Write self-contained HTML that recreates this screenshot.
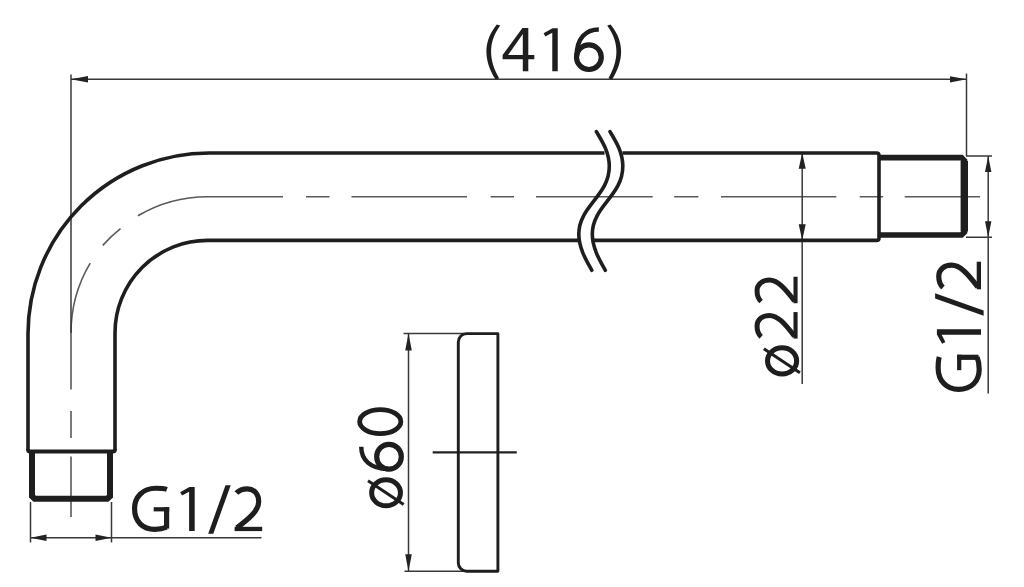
<!DOCTYPE html>
<html><head><meta charset="utf-8">
<style>
html,body{margin:0;padding:0;background:#fff;width:1024px;height:587px;overflow:hidden}
svg{display:block}
</style></head>
<body>
<svg width="1024" height="587" viewBox="0 0 1024 587">
<g fill="none" stroke-linecap="butt" stroke-linejoin="round">
  <g stroke-width="1.6" stroke="#5a5a5a">
    <path d="M71 517 L71 456.6 M71 438 L71 411"/>
    <path d="M71 389.5 L71 333 A136.5 136.5 0 0 1 90.2 263.1"/>
    <path d="M102.8 245.4 A136.5 136.5 0 0 1 120.5 228.7"/>
    <path d="M137.9 215.8 A136.5 136.5 0 0 1 207.5 196.7 L283 196.7"/>
    <path d="M306 196.7 L329.5 196.7 M351.5 196.7 L467 196.7 M490.6 196.7 L514 196.7 M536 196.7 L652.7 196.7 M674.2 196.7 L698.4 196.7 M721 196.7 L836.3 196.7 M859.8 196.7 L883.2 196.7 M904.7 196.7 L980 196.7"/>
  </g>
  <g stroke-width="1.5" stroke="#383838">
    <path d="M71 74.6 L71 333"/>
    <path d="M966.5 73.5 L966.5 156"/>
    <path d="M71 79.3 L966.5 79.3"/>
    <path d="M30.5 502 L30.5 542.5 M111.5 502 L111.5 542.5 M30.5 537.8 L261.5 537.8"/>
    <path d="M802.2 152.7 L802.2 384"/>
    <path d="M966 156 L992 156 M966 237.2 L992 237.2 M988.2 156 L988.2 393.5"/>
    <path d="M403.5 333.6 L466 333.6 M404.5 571.2 L466 571.2 M408.5 333.6 L408.5 571.2"/>
    <path stroke="#222" stroke-width="2.4" d="M432.7 452.4 L516.8 452.4"/>
  </g>
  <g stroke="#1e1e1e">
  <path stroke-width="3.6" d="M28 450 L28 334 A181 181 0 0 1 209 153 L604.5 153"/>
  <path stroke-width="3.6" d="M622.5 153 L876.5 153 Q879 153 879 155.5 L879 237.9 Q879 240.4 876.5 240.4 L594 240.4"/>
  <path stroke-width="3.6" d="M578 240.4 L207.5 240.4 A92.5 92.5 0 0 0 115 332.9 L115 450"/>
  <path stroke-width="4" d="M28 449 Q28 451.6 30 451.6 L112.5 451.6 Q115 451.6 115 449"/>
  <path stroke-width="3.6" stroke-linecap="round" d="M596.4 131.6 C602 141 609.3 152 609.3 166.3 C609.3 196 578.8 206 578.8 234.1 C578.8 248 586 260 591.8 270.3"/>
  <path stroke-width="3.6" stroke-linecap="round" d="M610 131.6 C615.6 141 622.8 152 622.8 166.3 C622.8 196 592.3 206 592.3 234.1 C592.3 248 599.5 260 605.3 270.3"/>
  <path stroke-width="6" stroke-linejoin="miter" d="M32 453 L32 496.3 L34.7 498.8 L107.3 498.8 L110 496.3 L110 453"/>
  <path stroke-width="5.6" stroke-linejoin="miter" d="M879 157.6 L961.5 157.6 L964.5 160.6 L964.5 232 L961.5 235 L879 235"/>
  <path stroke-width="7.4" d="M964.3 161 L964.3 231.5"/>
  <path stroke-width="2.9" d="M497.9 333.6 L466.8 333.6 A8.5 8.5 0 0 0 458.3 342.1 L458.3 562.7 A8.5 8.5 0 0 0 466.8 571.2 L497.9 571.2 Z"/>
  </g>
</g>
<g fill="#222" stroke="none">
  <path d="M71 79.3 L88 76 L88 82.6 Z"/>
  <path d="M966.5 79.3 L950 76.2 L950 82.4 Z"/>
  <path d="M30.5 537.8 L46.5 534.6 L46.5 541 Z"/>
  <path d="M111.5 537.8 L95.5 534.6 L95.5 541 Z"/>
  <path d="M802.2 152.7 L798.7 168.7 L805.7 168.7 Z"/>
  <path d="M802.2 240.3 L798.7 224.3 L805.7 224.3 Z"/>
  <path d="M988.2 156 L985 172 L991.4 172 Z"/>
  <path d="M988.2 237.2 L985 221.2 L991.4 221.2 Z"/>
  <path d="M408.5 333.6 L405.2 350.6 L411.8 350.6 Z"/>
  <path d="M408.5 571.2 L405.2 554.2 L411.8 554.2 Z"/>
</g>

<g transform="translate(502.6,71.2)" fill="#1e1e1e" stroke="#1e1e1e" stroke-linecap="butt"><g transform="translate(0,0)"><path stroke="none" fill-rule="evenodd" d="M19.8 -43.2 L25.7 -43.2 L25.7 -16.1 L31.7 -16.1 L31.7 -11.9 L25.7 -11.9 L25.7 0 L20.2 0 L20.2 -11.9 L0 -11.9 L0 -16.1 Z M20.2 -37.2 L20.2 -16.1 L5.5 -16.1 Z"/></g><g transform="translate(41.0,0) scale(0.975)"><path stroke="none" d="M0 -38.9 L9.2 -44.1 L14.5 -44.1 L14.5 0 L8.9 0 L8.9 -39.4 L1.8 -35.6 Z"/></g><g transform="translate(71.39999999999998,0)"><ellipse fill="none" stroke-width="5.2" cx="14.9" cy="-14" rx="12.4" ry="12.3"/><path fill="none" stroke-width="4.4" d="M24.8 -41.75 C12 -41.75 2.6 -33 2.6 -15"/></g></g><path fill="#1e1e1e" stroke="none" d="M496.8 24.4 L500.2 25.6 C493.6 35 491.1 43 491.1 51.5 C491.1 60 493.6 69 499.2 78.2 L495.6 79.6 C489.3 70 486.4 60 486.4 51.5 C486.4 43 489.3 33.5 496.8 24.4 Z"/><path fill="#1e1e1e" stroke="none" d="M610.6 24.4 L607.2 25.6 C613.8 35 616.4 43 616.4 51.5 C616.4 60 613.8 69 608.4 78.2 L612 79.6 C618.2 70 621.1 60 621.1 51.5 C621.1 43 618.2 33.5 610.6 24.4 Z"/><g transform="translate(131.7,531.1)" fill="#1e1e1e" stroke="#1e1e1e" stroke-linecap="butt"><g transform="translate(0,0)"><path fill="none" stroke-width="5.2" d="M35.2 -41.7 C32 -42.8 28.5 -42.85 24 -42.85 C11 -42.85 2.85 -34 2.85 -22.5 C2.85 -9.5 11 -1.8 23 -1.8 C28 -1.8 31.8 -2.6 34.9 -3.9"/><path fill="none" stroke-width="5.2" d="M34.9 -2.5 V-23.9"/><path fill="none" stroke-width="4.2" d="M22 -21.8 H37.5"/></g><g transform="translate(48.5,0)"><path stroke="none" d="M0 -38.9 L9.2 -44.1 L14.5 -44.1 L14.5 0 L8.9 0 L8.9 -39.4 L1.8 -35.6 Z"/></g><g transform="translate(76.5,0)"><path stroke="none" d="M17.3 -45.9 L22.5 -45.9 L5.1 2.6 L0 2.6 Z"/></g><g transform="translate(102.9,0)"><path fill="none" stroke-width="5.2" d="M1.8 -38 C4.5 -41 8.5 -42.25 13 -42.25 C19.5 -42.25 24.1 -37 24.1 -29.5 C24.1 -21 16 -13.5 2.3 -3.2"/><path fill="none" stroke-width="4.3" d="M0 -2.15 H27.6"/></g></g><g transform="translate(981,392.2) rotate(-90)" fill="#1e1e1e" stroke="#1e1e1e" stroke-linecap="butt"><g transform="translate(0,0)"><path fill="none" stroke-width="5.2" d="M35.2 -41.7 C32 -42.8 28.5 -42.85 24 -42.85 C11 -42.85 2.85 -34 2.85 -22.5 C2.85 -9.5 11 -1.8 23 -1.8 C28 -1.8 31.8 -2.6 34.9 -3.9"/><path fill="none" stroke-width="5.2" d="M34.9 -2.5 V-23.9"/><path fill="none" stroke-width="4.2" d="M22 -21.8 H37.5"/></g><g transform="translate(48.5,0)"><path stroke="none" d="M0 -38.9 L9.2 -44.1 L14.5 -44.1 L14.5 0 L8.9 0 L8.9 -39.4 L1.8 -35.6 Z"/></g><g transform="translate(76.5,0)"><path stroke="none" d="M17.3 -45.9 L22.5 -45.9 L5.1 2.6 L0 2.6 Z"/></g><g transform="translate(102.9,0)"><path fill="none" stroke-width="5.2" d="M1.8 -38 C4.5 -41 8.5 -42.25 13 -42.25 C19.5 -42.25 24.1 -37 24.1 -29.5 C24.1 -21 16 -13.5 2.3 -3.2"/><path fill="none" stroke-width="4.3" d="M0 -2.15 H27.6"/></g></g><g transform="translate(797.6,376.2) rotate(-90) scale(0.96)" fill="#1e1e1e" stroke="#1e1e1e" stroke-linecap="butt"><g transform="translate(39.2,0)"><path fill="none" stroke-width="5.2" d="M1.8 -38 C4.5 -41 8.5 -42.25 13 -42.25 C19.5 -42.25 24.1 -37 24.1 -29.5 C24.1 -21 16 -13.5 2.3 -3.2"/><path fill="none" stroke-width="4.3" d="M0 -2.15 H27.6"/></g><g transform="translate(76,0)"><path fill="none" stroke-width="5.2" d="M1.8 -38 C4.5 -41 8.5 -42.25 13 -42.25 C19.5 -42.25 24.1 -37 24.1 -29.5 C24.1 -21 16 -13.5 2.3 -3.2"/><path fill="none" stroke-width="4.3" d="M0 -2.15 H27.6"/></g></g><g transform="translate(799.2,376.6) rotate(-90) scale(1.01)" fill="#1e1e1e" stroke="#1e1e1e" stroke-linecap="butt"><g transform="translate(0,0)"><ellipse fill="none" stroke-width="5" cx="15.5" cy="-16.95" rx="13" ry="14.4"/><path fill="none" stroke-width="3" d="M3.8 0.7 L27.6 -35"/></g></g><g transform="translate(403,508.3) rotate(-90)" fill="#1e1e1e" stroke="#1e1e1e" stroke-linecap="butt"><g transform="translate(0,0)"><ellipse fill="none" stroke-width="5" cx="15.5" cy="-16.95" rx="13" ry="14.4"/><path fill="none" stroke-width="3" d="M3.8 0.7 L27.6 -35"/></g><g transform="translate(36.7,0)"><ellipse fill="none" stroke-width="5.2" cx="14.9" cy="-14" rx="12.4" ry="12.3"/><path fill="none" stroke-width="4.4" d="M24.8 -41.75 C12 -41.75 2.6 -33 2.6 -15"/></g><g transform="translate(72,0)"><ellipse fill="none" stroke-width="4.8" cx="14.7" cy="-22.75" rx="11.95" ry="20.6"/></g></g>
</svg>
</body></html>
